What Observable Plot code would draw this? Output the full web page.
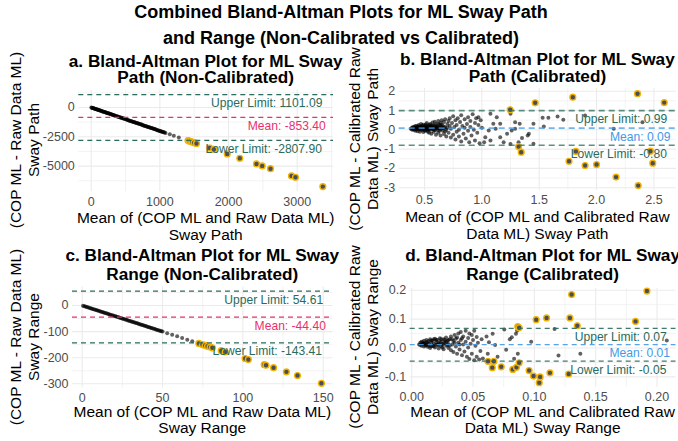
<!DOCTYPE html>
<html><head><meta charset="utf-8">
<script src="https://cdn.jsdelivr.net/npm/d3@7"></script>
<script src="https://cdn.jsdelivr.net/npm/@observablehq/plot@0.6"></script>
<style>
body{margin:0;background:#fff;font-family:"Liberation Sans",Arial,sans-serif;}
#chart{position:relative;width:678px;height:441px;overflow:hidden;background:#fff;}
#chart svg{position:absolute;left:0;top:0;}
.t{position:absolute;white-space:nowrap;line-height:0.85;transform:translate(-50%,-50%);color:#000;}
.r{transform:translate(-50%,-50%) rotate(-90deg);}
</style></head><body><div id="chart"></div>
<script>
// ---------------- DATA ----------------
const mainTitle = ["Combined Bland-Altman Plots for ML Sway Path", "and Range (Non-Calibrated vs Calibrated)"];
const panelTitles = [
  ["a. Bland-Altman Plot for ML Sway", "Path (Non-Calibrated)"],
  ["b. Bland-Altman Plot for ML Sway", "Path (Calibrated)"],
  ["c. Bland-Altman Plot for ML Sway", "Range (Non-Calibrated)"],
  ["d. Bland-Altman Plot for ML Sway", "Range (Calibrated)"]
];
const xTitles = [
  ["Mean of (COP ML and Raw Data ML)", "Sway Path"],
  ["Mean of (COP ML and Calibrated Raw", "Data ML) Sway Path"],
  ["Mean of (COP ML and Raw Data ML)", "Sway Range"],
  ["Mean of (COP ML and Calibrated Raw", "Data ML) Sway Range"]
];
const yTitles = [
  ["(COP ML - Raw Data ML)", "Sway Path"],
  ["(COP ML - Calibrated Raw", "Data ML) Sway Path"],
  ["(COP ML - Raw Data ML)", "Sway Range"],
  ["(COP ML - Calibrated Raw", "Data ML) Sway Range"]
];

// limits: [upper, mean, lower]
const pathNonCalLimits = [1101.09, -853.40, -2807.90];
const pathCalLimits = [0.99, 0.09, -0.80];
const rangeNonCalLimits = [54.61, -44.40, -143.41];
const rangeCalLimits = [0.068, 0.012, -0.0455];

// tick values
const pathNonCalXTicks = [0, 1000, 2000, 3000], pathNonCalXMinor = [500, 1500, 2500, 3500];
const pathNonCalYTicks = [-5000, -2500, 0], pathNonCalYMinor = [-6250, -3750, -1250, 1250];
const pathCalXTicks = [0.5, 1.0, 1.5, 2.0, 2.5], pathCalXMinor = [0.75, 1.25, 1.75, 2.25];
const pathCalYTicks = [-3, -2, -1, 0, 1, 2], pathCalYMinor = [-2.5, -1.5, -0.5, 0.5, 1.5];
const rangeNonCalXTicks = [0, 50, 100, 150], rangeNonCalXMinor = [25, 75, 125];
const rangeNonCalYTicks = [-300, -200, -100, 0], rangeNonCalYMinor = [-250, -150, -50, 50];
const rangeCalXTicks = [0, 0.05, 0.10, 0.15, 0.20], rangeCalXMinor = [0.025, 0.075, 0.125, 0.175];
const rangeCalYTicks = [-0.1, 0, 0.1, 0.2], rangeCalYMinor = [-0.05, 0.05, 0.15];

// points: [mean, difference]
const pathNonCalPoints = [
 [2,-4],[10,-20],[18,-37],[26,-52],[35,-70],[43,-86],[52,-105],[61,-122],[70,-141],[79,-158],[88,-176],[96,-193],
 [105,-211],[113,-226],[122,-245],[131,-262],[140,-281],[149,-298],[158,-317],[167,-334],[176,-353],[185,-370],
 [195,-391],[204,-408],[214,-428],[223,-446],[232,-465],[241,-482],[250,-501],[260,-520],[270,-541],[280,-560],
 [290,-580],[300,-600],[310,-621],[320,-640],[330,-660],[340,-680],[350,-701],[361,-722],[372,-745],[383,-766],
 [394,-788],[405,-810],[416,-833],[427,-854],[438,-876],[449,-898],[460,-921],[471,-942],[482,-965],[493,-986],
 [505,-1010],[516,-1032],[528,-1057],[539,-1078],[550,-1101],[561,-1122],[572,-1145],[583,-1166],[595,-1190],[606,-1212],
 [618,-1237],[629,-1258],[640,-1281],[651,-1302],[662,-1325],[673,-1346],[685,-1371],[696,-1392],[708,-1416],[719,-1438],
 [730,-1461],[741,-1482],[752,-1505],[763,-1526],[775,-1551],[786,-1572],[798,-1597],[809,-1618],[820,-1641],[831,-1662],
 [842,-1685],[853,-1706],[865,-1731],[876,-1752],[888,-1777],[899,-1798],[910,-1821],[921,-1842],[932,-1865],[943,-1886],
 [955,-1911],[966,-1932],[978,-1957],[989,-1978],[1000,-2001],[1011,-2022],[1022,-2045],[1033,-2066],[1045,-2091],[1056,-2112],
 [1068,-2137],[1082,-2166],[1145,-2291],[1203,-2407],[1276,-2553],
 [1410,-2822],[1428,-2857],[1450,-2901],[1471,-2943],[1500,-3002],[1533,-3067],[1727,-3455],[1786,-3573],
 [1981,-3963],[2164,-4330],[2407,-4815],[2490,-4981],[2611,-5223],[2917,-5835],[2975,-5951],[3373,-6748]
];
const rangeNonCalPoints = [
 [0.5,-1.0],[1.25,-2.5],[2,-4.1],[2.75,-5.5],[3.5,-7.0],[4.25,-8.5],[5,-10.1],[5.75,-11.5],[6.5,-13.0],[7.25,-14.5],
 [8,-16.1],[8.75,-17.5],[9.5,-19.0],[10.25,-20.5],[11,-22.1],[11.75,-23.5],[12.5,-25.0],[13.25,-26.5],[14,-28.1],[14.75,-29.5],
 [15.5,-31.0],[16.25,-32.5],[17,-34.1],[17.75,-35.5],[18.5,-37.0],[19.25,-38.5],[20,-40.1],[20.75,-41.5],[21.5,-43.0],[22.25,-44.5],
 [23,-46.1],[23.75,-47.5],[24.5,-49.0],[25.25,-50.5],[26,-52.1],[26.75,-53.5],[27.5,-55.0],[28.25,-56.5],[29,-58.1],[29.75,-59.5],
 [30.5,-61.0],[31.25,-62.5],[32,-64.1],[32.75,-65.5],[33.5,-67.0],[34.25,-68.5],[35,-70.1],[35.75,-71.5],[36.5,-73.0],[37.25,-74.5],
 [38,-76.1],[38.75,-77.5],[39.5,-79.0],[40.25,-80.5],[41,-82.1],[41.75,-83.5],[42.5,-85.0],[43.25,-86.5],[44,-88.1],[44.75,-89.5],
 [45.5,-91.0],[46.25,-92.5],[47,-94.1],[47.75,-95.5],[48.5,-97.0],[49.25,-98.5],[50,-100.1],
 [52.9,-105.9],[56,-112.1],[59.1,-118.2],[62.2,-124.5],[65.4,-130.8],[68.5,-137.1],
 [72.6,-145.3],[74.8,-149.7],[76.5,-153.1],[78,-156.1],[79.6,-159.3],[81,-162.1],[86.5,-173.1],[89,-178.2],
 [101.4,-203.0],[103.4,-207.0],[113.3,-226.7],[114.4,-228.9],[119.1,-238.3],[127.1,-254.3],[134,-268.1],[148.9,-298.0]
];
const pathCalPoints = [
 [0.38,0.05],[0.39,0.10],[0.40,0.00],[0.40,0.15],[0.41,0.08],[0.41,0.02],[0.42,-0.05],[0.42,0.20],[0.43,0.12],[0.43,0.02],
 [0.44,0.18],[0.44,-0.08],[0.45,0.10],[0.45,0.25],[0.45,0.04],[0.46,0.05],[0.46,-0.10],[0.46,0.16],[0.47,0.15],[0.47,0.30],
 [0.47,0.00],[0.48,0.00],[0.48,0.22],[0.48,0.10],[0.49,0.10],[0.49,-0.12],[0.49,0.26],[0.50,0.18],[0.50,0.05],[0.50,-0.03],
 [0.51,0.28],[0.51,-0.05],[0.51,0.12],[0.52,0.12],[0.52,0.35],[0.52,0.00],[0.53,0.02],[0.53,0.20],[0.53,-0.10],[0.54,-0.15],
 [0.54,0.10],[0.54,0.26],[0.55,0.30],[0.55,0.00],[0.55,0.16],[0.56,0.15],[0.56,-0.20],[0.56,0.05],[0.57,0.38],[0.57,0.05],
 [0.57,0.22],[0.58,0.22],[0.58,-0.10],[0.58,0.10],[0.59,0.12],[0.59,0.42],[0.59,-0.02],[0.60,-0.25],[0.60,0.30],[0.60,0.08],
 [0.61,0.00],[0.61,0.18],[0.62,0.45],[0.62,-0.15],[0.62,0.12],[0.63,0.25],[0.63,0.08],[0.64,-0.30],[0.64,0.35],[0.64,0.02],
 [0.65,0.10],[0.65,0.50],[0.66,-0.05],[0.66,0.20],[0.67,0.40],[0.67,-0.22],[0.68,0.15],[0.68,0.55],[0.69,0.00],[0.69,-0.35],
 [0.39,0.02],[0.40,0.08],[0.41,0.14],[0.42,0.06],[0.43,0.18],[0.44,0.04],[0.45,0.16],[0.46,0.10],[0.47,0.06],[0.48,0.16],
 [0.49,0.04],[0.50,0.12],[0.51,0.20],[0.52,0.06],[0.53,0.14],[0.54,0.03],[0.55,0.22],[0.56,0.10],[0.57,0.14],[0.58,0.02],
 [0.59,0.20],[0.60,0.15],[0.61,0.09],[0.62,0.30],[0.63,-0.05],[0.64,0.18],[0.65,0.28],[0.66,0.08],[0.67,0.12],[0.68,-0.08],
 [0.70,0.30],[0.70,0.10],[0.71,0.45],[0.71,-0.15],[0.72,0.20],[0.72,0.60],[0.73,-0.40],[0.73,0.05],[0.74,0.35],[0.75,-0.25],
 [0.75,0.70],[0.76,0.15],[0.77,-0.50],[0.77,0.50],[0.78,0.25],[0.78,-0.10],[0.79,0.60],[0.80,0.00],[0.80,-0.35],[0.81,0.40],
 [0.82,0.75],[0.82,-0.60],[0.83,0.20],[0.84,-0.20],[0.85,0.55],[0.85,0.10],[0.86,-0.45],[0.87,0.30],[0.88,0.65],[0.88,-0.05],
 [0.89,-0.65],[0.90,0.45],[0.90,0.15],[0.91,-0.30],[0.92,0.80],[0.93,0.00],[0.94,-0.55],[0.94,0.35],[0.95,0.60],[0.96,-0.15],
 [0.97,0.25],[0.98,-0.70],[0.99,0.50],[1.00,0.10],[0.97,0.65],[1.02,-0.64],[1.03,-0.38],[1.06,-0.04],[1.075,0.83],[1.075,-0.55],
 [1.10,0.31],[1.12,0.05],[1.13,0.65],[1.16,0.31],[1.16,-0.38],[1.19,-0.64],[1.22,-0.21],[1.25,-0.73],[1.25,0.83],[1.26,-0.04],
 [1.29,0.39],[1.29,0.05],[1.33,0.31],[1.32,-0.64],[1.35,-0.42],[1.40,-0.30],[1.41,-0.21],[1.45,0.31],[1.45,-0.72],[1.53,0.62],
 [1.54,0.17],[1.58,0.62],[1.66,0.69],[1.71,0.52],[1.90,0.74],[2.15,0.05],[2.40,0.39],
 [1.247,1.04],[1.465,1.40],[1.793,1.69],[2.357,1.87],[2.59,1.41],[1.32,-0.87],[1.343,-1.16],[1.76,-1.63],
 [1.82,-1.12],[1.90,-1.85],[2.00,-1.80],[2.17,-2.45],[2.363,-2.89],[2.47,-1.11],[2.49,-1.73]
];
const rangeCalPoints = [
 [0.006,0.012],[0.007,0.018],[0.008,0.008],[0.008,0.022],[0.009,0.014],[0.010,0.005],[0.010,0.025],[0.011,0.016],[0.012,0.010],[0.012,0.028],
 [0.013,0.004],[0.013,0.020],[0.014,0.013],[0.015,0.030],[0.015,0.000],[0.016,0.018],[0.017,0.008],[0.017,0.025],[0.018,0.014],[0.019,0.032],
 [0.019,0.002],[0.020,0.020],[0.021,0.010],[0.021,0.028],[0.022,-0.002],[0.022,0.016],[0.023,0.034],[0.024,0.006],[0.024,0.022],[0.025,0.012],
 [0.026,0.030],[0.026,-0.004],[0.027,0.018],[0.028,0.008],[0.028,0.036],[0.029,0.024],[0.030,0.000],[0.030,0.014],[0.009,0.020],[0.011,0.009],
 [0.014,0.024],[0.016,0.006],[0.018,0.030],[0.020,0.012],[0.023,0.020],[0.025,0.002],[0.027,0.028],[0.029,0.010],
 [0.007,0.010],[0.010,0.016],[0.012,0.020],[0.014,0.008],[0.016,0.026],[0.018,0.006],[0.020,0.028],[0.022,0.010],[0.024,0.030],[0.026,0.016],
 [0.028,0.022],[0.030,0.028],[0.031,0.008],[0.033,0.030],[0.035,0.018],[0.037,0.036],[0.039,0.012],[0.041,0.034],
 [0.031,0.030],[0.032,-0.008],[0.032,0.040],[0.033,0.012],[0.034,0.024],[0.034,-0.014],[0.035,0.045],[0.036,0.005],[0.036,0.032],[0.037,-0.020],
 [0.038,0.018],[0.038,0.050],[0.039,-0.005],[0.040,0.028],[0.040,0.055],[0.041,-0.025],[0.042,0.012],[0.042,0.040],[0.043,-0.012],[0.044,0.060],
 [0.044,0.022],[0.045,-0.030],[0.046,0.035],[0.046,0.002],[0.047,0.050],[0.047,-0.038],[0.048,0.015],[0.049,-0.020],[0.049,0.045],[0.050,0.028],
 [0.051,-0.042],[0.051,0.060],[0.052,0.008],[0.053,-0.030],[0.053,0.038],[0.054,0.018],[0.055,-0.040],[0.056,-0.010],[0.057,0.030],[0.058,-0.036],
 [0.061,0.040],[0.062,-0.020],[0.063,0.020],[0.066,0.049],[0.068,0.010],[0.070,-0.030],[0.0755,0.064],[0.077,-0.006],[0.080,0.030],[0.0816,0.037],
 [0.0835,-0.037],[0.085,0.049],[0.0859,0.060],[0.0865,-0.020],[0.0974,0.022],[0.1165,0.066],[0.1197,-0.026],[0.1375,-0.020],[0.208,0.026],
 [0.0865,0.074],[0.0876,0.070],[0.1015,0.098],[0.110,0.104],[0.129,0.104],[0.135,0.077],[0.1304,0.185],[0.1918,0.197],[0.1825,0.092],
 [0.0622,-0.046],[0.067,-0.046],[0.0657,-0.068],[0.073,-0.065],[0.0824,-0.074],[0.0854,-0.067],[0.0876,-0.051],[0.0957,-0.078],
 [0.0993,-0.097],[0.104,-0.120],[0.1047,-0.100],[0.1127,-0.086],[0.128,-0.090]
];

// ---------------- LAYOUT / STYLE ----------------
const W = 678, H = 441;
const FONT = "'Liberation Sans', Arial, Helvetica, sans-serif";
const limitColor = "#2a6b5b";
const meanPink = "#e8306c", meanBlue = "#4499e8";
const gridColor = "#ebebeb";
const outlierRing = "#f2b400", outlierFill = "#4d4d55";

const fmtInt = d => String(d);
const panels = [
  {points: pathNonCalPoints, limits: pathNonCalLimits, box: [78.3, 89.5, 333, 191.3],
   xDomain: [-180.6, 3528.5], yDomain: [-7193, 1493],
   xTicks: pathNonCalXTicks, xMinor: pathNonCalXMinor, yTicks: pathNonCalYTicks, yMinor: pathNonCalYMinor,
   xFmt: fmtInt, yFmt: fmtInt, meanColor: meanPink, lw: 1.25, dash: "5,4", op: 1,
   title: [205.7, 61, 77], xt: [205.7, 218, 234.5], yt: [140.4, 16, 34]},
  {points: pathCalPoints, limits: pathCalLimits, box: [398.7, 88, 676, 190],
   xDomain: [0.2794, 2.697], yDomain: [-3.145, 2.14],
   xTicks: pathCalXTicks, xMinor: pathCalXMinor, yTicks: pathCalYTicks, yMinor: pathCalYMinor,
   xFmt: d => d.toFixed(1), yFmt: fmtInt, meanColor: meanBlue, lw: 1.7, dash: "6,4", op: 0.75,
   title: [537.4, 58.5, 75.5], xt: [537.4, 217, 233.5], yt: [139, 354.5, 372.5]},
  {points: rangeNonCalPoints, limits: rangeNonCalLimits, box: [72, 286.2, 332.5, 387.4],
   xDomain: [-6.04, 156.1], yDomain: [-315.7, 72.0],
   xTicks: rangeNonCalXTicks, xMinor: rangeNonCalXMinor, yTicks: rangeNonCalYTicks, yMinor: rangeNonCalYMinor,
   xFmt: fmtInt, yFmt: fmtInt, meanColor: meanPink, lw: 1.25, dash: "5,4", op: 1,
   title: [202.3, 255, 273.5], xt: [202.3, 411.7, 428.3], yt: [336.8, 15.5, 33.5]},
  {points: rangeCalPoints, limits: rangeCalLimits, box: [409.7, 288, 675.5, 386.7],
   xDomain: [-0.00123, 0.2155], yDomain: [-0.1356, 0.2059],
   xTicks: rangeCalXTicks, xMinor: rangeCalXMinor, yTicks: rangeCalYTicks, yMinor: rangeCalYMinor,
   xFmt: d => d.toFixed(2), yFmt: d => d.toFixed(1), meanColor: meanBlue, lw: 1.25, dash: "5,4", op: 0.9,
   title: [542.6, 255, 273.5], xt: [542.6, 411.7, 428.3], yt: [337.4, 354.5, 372.5]}
];

const chart = document.getElementById("chart");
const ctx = document.createElement("canvas").getContext("2d");
const annSize = 12.1;
ctx.font = `${annSize}px 'Liberation Sans'`;

function addText(txt, x, y, size, weight, rotate) {
  const el = document.createElement("div");
  el.className = "t" + (rotate ? " r" : "");
  el.textContent = txt;
  el.style.left = x + "px";
  el.style.top = y + "px";
  el.style.fontSize = size + "px";
  el.style.fontWeight = weight;
  chart.appendChild(el);
}

panels.forEach((p, i) => {
  const [upper, mean, lower] = p.limits;
  const outliers = p.points.filter(d => d[1] > upper || d[1] < lower);
  const anns = [
    {v: upper, label: `Upper Limit: ${upper.toFixed(2)}`, color: limitColor},
    {v: mean, label: `Mean: ${mean.toFixed(2)}`, color: p.meanColor},
    {v: lower, label: `Lower Limit: ${lower.toFixed(2)}`, color: limitColor}
  ];
  const [l, t, r, b] = p.box;
  const svg = Plot.plot({
    width: W, height: H,
    marginLeft: l, marginTop: t, marginRight: W - r, marginBottom: H - b,
    x: {domain: p.xDomain, label: null},
    y: {domain: p.yDomain, label: null},
    style: {background: "transparent", fontFamily: FONT, overflow: "visible"},
    marks: [
      Plot.ruleX(p.xMinor, {stroke: gridColor, strokeWidth: 0.6}),
      Plot.ruleY(p.yMinor, {stroke: gridColor, strokeWidth: 0.6}),
      Plot.ruleX(p.xTicks, {stroke: gridColor, strokeWidth: 1.1}),
      Plot.ruleY(p.yTicks, {stroke: gridColor, strokeWidth: 1.1}),
      Plot.axisX({ticks: p.xTicks, tickFormat: p.xFmt, tickSize: 0, tickPadding: 5, fontSize: 12.5, color: "#4d4d4d", label: null}),
      Plot.axisY({ticks: p.yTicks, tickFormat: p.yFmt, tickSize: 0, tickPadding: 4, fontSize: 12.5, color: "#4d4d4d", label: null}),
      Plot.dot(p.points, {x: d => d[0], y: d => d[1], r: 2, fill: "#000", fillOpacity: 0.62, stroke: null}),
      Plot.dot(outliers, {x: d => d[0], y: d => d[1], r: 2.9, fill: outlierFill, stroke: outlierRing, strokeWidth: 1.4}),
      Plot.ruleY([upper, lower], {stroke: limitColor, strokeWidth: p.lw, strokeDasharray: p.dash, strokeOpacity: p.op}),
      Plot.ruleY([mean], {stroke: p.meanColor, strokeWidth: p.lw, strokeDasharray: p.dash, strokeOpacity: p.op}),
      ...anns.map(a => Plot.text([a], {y: d => d.v, text: d => d.label, frameAnchor: "right", textAnchor: "end",
        dx: -0.1 * ctx.measureText(a.label).width, dy: 8.6, fill: a.color, fontSize: annSize}))
    ]
  });
  chart.appendChild(svg);
  addText(panelTitles[i][0], p.title[0], p.title[1], 17.2, "bold");
  addText(panelTitles[i][1], p.title[0], p.title[2], 17.2, "bold");
  addText(xTitles[i][0], p.xt[0], p.xt[1], 15.5, "normal");
  addText(xTitles[i][1], p.xt[0], p.xt[2], 15.5, "normal");
  addText(yTitles[i][0], p.yt[1], p.yt[0], 15.5, "normal", true);
  addText(yTitles[i][1], p.yt[2], p.yt[0], 15.5, "normal", true);
});
addText(mainTitle[0], 341, 13, 18, "bold");
addText(mainTitle[1], 341, 38.5, 18, "bold");
</script></body></html>
